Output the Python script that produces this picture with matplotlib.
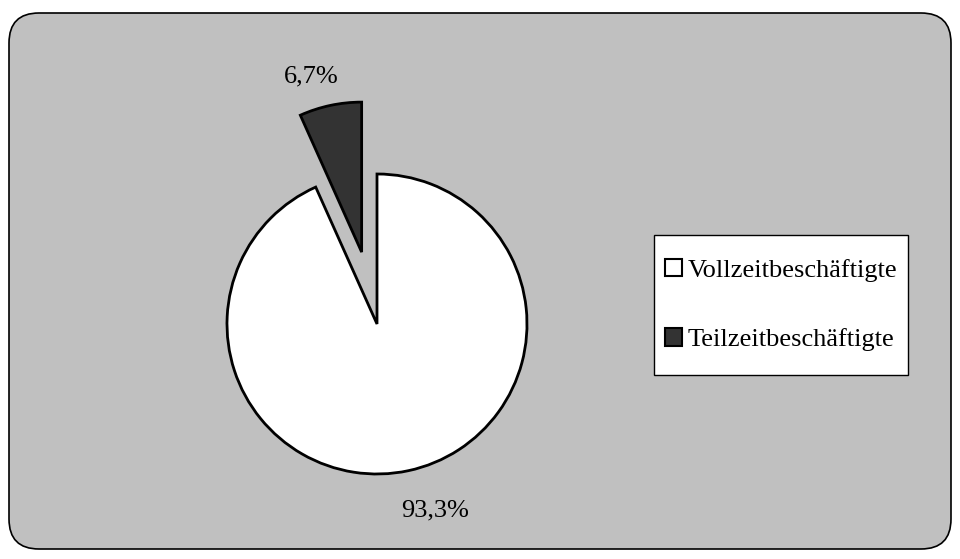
import matplotlib
matplotlib.use("Agg")
import matplotlib.pyplot as plt
import numpy as np
from matplotlib.patches import FancyBboxPatch, Patch, Rectangle

# data
categories = ["Vollzeitbeschäftigte", "Teilzeitbeschäftigte"]
shares = [93.3, 6.7]
colors = ["#ffffff", "#333333"]
explode = [0.0, 0.49]   # fraction of the radius

plt.rcParams["font.family"] = ["Liberation Serif", "DejaVu Serif"]

fig = plt.figure(figsize=(9.6, 5.59), dpi=100)
fig.patch.set_facecolor("white")
ax = fig.add_axes([0, 0, 1, 1])
ax.set_axis_off()

# rounded grey frame
frame = FancyBboxPatch((9, 10), 942, 536,
                       boxstyle="round,pad=0,rounding_size=30",
                       facecolor="#c0c0c0", edgecolor="black", linewidth=1.2,
                       zorder=0)
ax.add_patch(frame)

R = 150
# pie() offsets in data units, so scale the explode fraction by the radius
wedges, _ = ax.pie(shares, colors=colors, explode=[e * R for e in explode],
                   startangle=90, counterclock=False, center=(377, 235),
                   radius=R, wedgeprops=dict(edgecolor="black", linewidth=2),
                   frame=True)

# percentage labels outside the slices
label_pos = [(1.30, -72.7), (1.22, 106)]
for w, val, (dist, ang) in zip(wedges, shares, label_pos):
    cx, cy = w.center
    x = cx + dist * w.r * np.cos(np.radians(ang))
    y = cy + dist * w.r * np.sin(np.radians(ang))
    ax.text(x, y, ("%.1f%%" % val).replace(".", ","), ha="center",
            va="center", fontsize=19)

ax.set_xlim(0, 960)
ax.set_ylim(0, 559)
ax.set_aspect("equal")
ax.set_axis_off()

# legend box
ax.add_patch(Rectangle((654, 184), 254, 140, facecolor="white",
                       edgecolor="black", linewidth=1.0, zorder=3))
handles = [Patch(facecolor=c, edgecolor="black", linewidth=1.5) for c in colors]
leg = ax.legend(handles, categories, loc="center",
                bbox_to_anchor=(0.8135, 0.4545), bbox_transform=fig.transFigure,
                fontsize=19, frameon=False, handlelength=0.65,
                handleheight=0.65, handletextpad=0.2, labelspacing=1.75,
                borderpad=0, borderaxespad=0)
leg.set_zorder(4)

fig.savefig("out.png", dpi=100, facecolor=fig.get_facecolor())
